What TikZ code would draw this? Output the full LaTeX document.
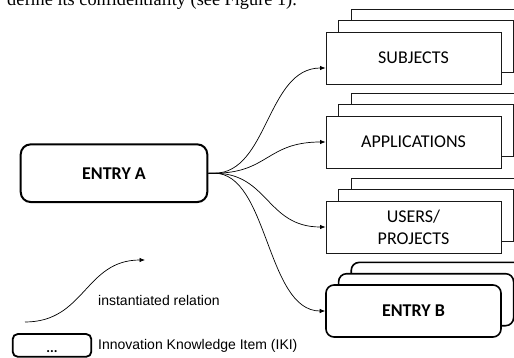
\documentclass[tikz,border=0pt]{standalone}
\usepackage{fontspec}
\setmainfont{Carlito}
\newfontfamily\arialf{Liberation Sans}
\newfontfamily\timesf{Liberation Serif}
\usetikzlibrary{arrows.meta}
\begin{document}
\begin{tikzpicture}[x=1pt,y=-1pt,
 iki/.style={draw=black!90, line width=0.9pt, fill=white, minimum width=175pt, minimum height=52pt, inner sep=0pt, font=\fontsize{18}{22}\selectfont, align=center},
 entry/.style={draw=black, line width=1.6pt, fill=white, rounded corners=8pt, minimum width=175pt, minimum height=52pt, inner sep=0pt, font=\fontsize{18}{22}\selectfont\bfseries},
 rel/.style={draw=black, line width=0.7pt, -{Latex[length=5.5pt,width=4.5pt]}},
 legtext/.style={font=\arialf\fontsize{14}{16}\selectfont, anchor=base west, inner sep=0pt}]
\useasboundingbox (0,0) rectangle (514,358);
\clip (0,0) rectangle (514,358);
% cropped caption text at top
\node[font=\timesf\fontsize{18.3}{20}\selectfont, anchor=base west, inner sep=0pt] (cap) at (7,5.5) {define its confidentiality (see Figure 1).};
% SUBJECTS stack
\node[iki] (subj3) at (438.7,35.4) {};
\node[iki] (subj2) at (426.1,46.7) {};
\node[iki] (subj) at (413.5,58) {SUBJECTS};
% APPLICATIONS stack
\node[iki] (app3) at (438.7,119.4) {};
\node[iki] (app2) at (426.1,130.7) {};
\node[iki] (app) at (413.5,142) {APPLICATIONS};
% USERS stack
\node[iki] (usr3) at (438.7,204.4) {};
\node[iki] (usr2) at (426.1,215.7) {};
\node[iki] (usr) at (413.5,227) {USERS/\\PROJECTS};
% ENTRY B stack
\node[entry] (eb3) at (438.7,288.4) {};
\node[entry] (eb2) at (426.1,299.7) {};
\node[entry] (eb) at (413.5,311) {ENTRY B};
% ENTRY A
\node[entry, line width=2pt, rounded corners=10pt, minimum width=186.6pt, minimum height=57.7pt] (ea) at (114,173.2) {ENTRY A};
% relations
\draw[rel] (ea.east) -- ++(6,0) .. controls +(54,0) and +(-59,0) .. ([yshift=-10pt]subj.west);
\draw[rel] (ea.east) -- ++(6,0) .. controls +(54,0) and +(-59,0) .. (app.west);
\draw[rel] (ea.east) -- ++(6,0) .. controls +(54,0) and +(-59,0) .. (usr.west);
\draw[rel] (ea.east) -- ++(6,0) .. controls +(54,0) and +(-59,0) .. (eb.west);
% legend
\coordinate (l1) at (25,322);
\coordinate (l2) at (145,260);
\draw[rel] (l1) .. controls +(60,0) and +(-60,0) .. (l2);
\node[legtext] (lt1) at (98,305) {instantiated relation};
\node[draw=black, line width=1.8pt, rounded corners=5pt, minimum width=78.6pt, minimum height=22.7pt, inner sep=0pt, text height=14pt, text depth=0pt, font=\fontsize{14}{16}\selectfont\bfseries] (leg) at (52,345.4) {...};
\node[legtext] (lt2) at (98,349) {Innovation Knowledge Item (IKI)};
\end{tikzpicture}
\end{document}
